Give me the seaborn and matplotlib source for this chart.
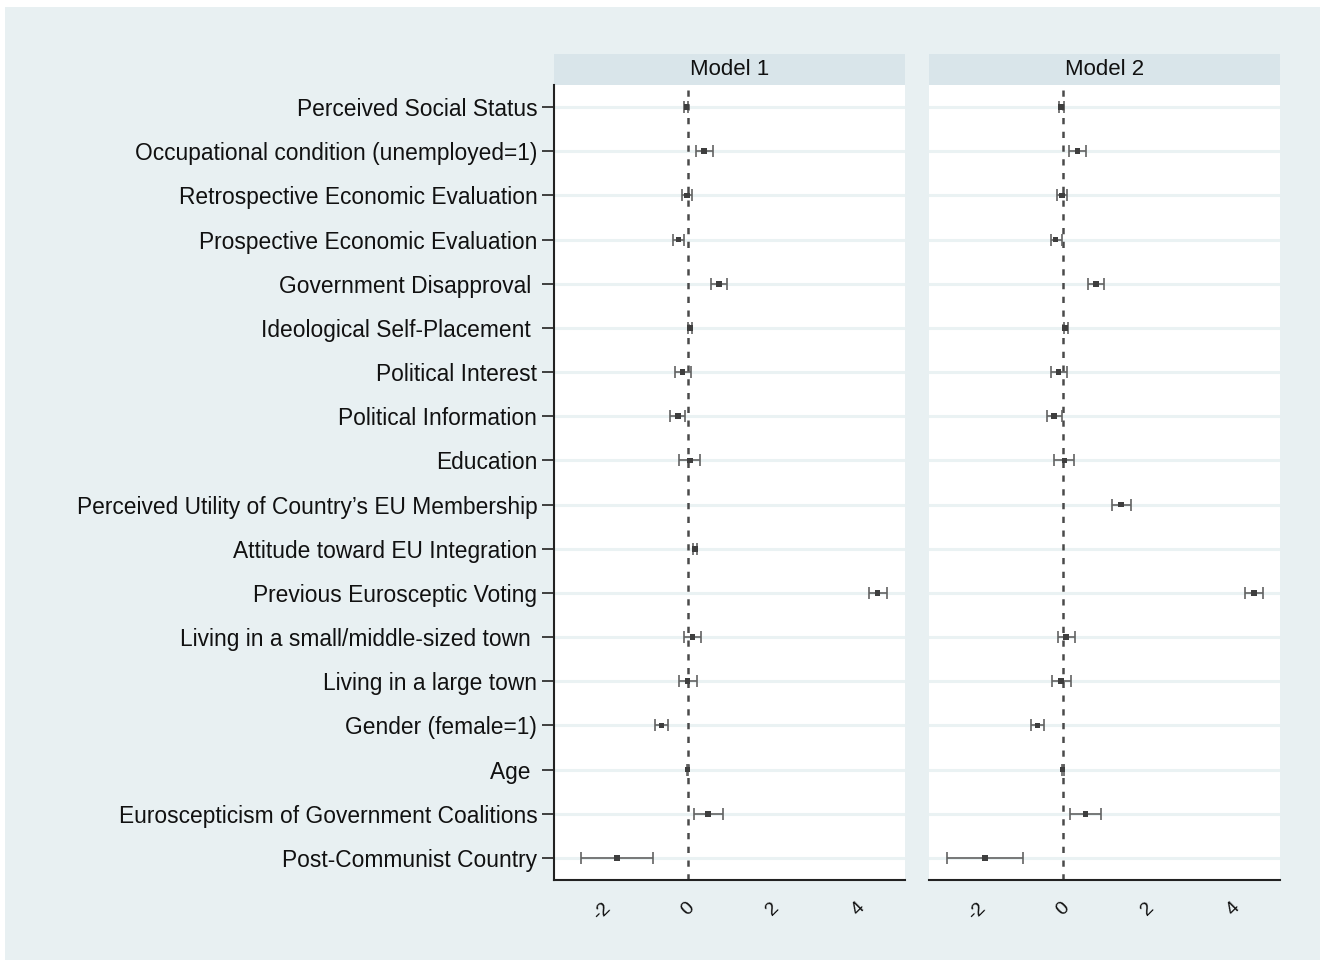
import numpy as np
import pandas as pd
import matplotlib
matplotlib.use("Agg")
import matplotlib.pyplot as plt
import seaborn as sns

labels = [
    "Perceived Social Status",
    "Occupational condition (unemployed=1)",
    "Retrospective Economic Evaluation",
    "Prospective Economic Evaluation",
    "Government Disapproval ",
    "Ideological Self-Placement ",
    "Political Interest",
    "Political Information",
    "Education",
    "Perceived Utility of Country\u2019s EU Membership",
    "Attitude toward EU Integration",
    "Previous Eurosceptic Voting",
    "Living in a small/middle-sized town ",
    "Living in a large town",
    "Gender (female=1)",
    "Age ",
    "Euroscepticism of Government Coalitions",
    "Post-Communist Country",
]

# Model 1 (no estimate for EU membership utility)
m1_est = [-0.03, 0.38, -0.02, -0.21, 0.73, 0.05, -0.12, -0.23, 0.05, np.nan,
          0.17, 4.45, 0.12, 0.00, -0.61, 0.00, 0.48, -1.65]
m1_lo = [-0.08, 0.20, -0.13, -0.33, 0.55, 0.02, -0.30, -0.41, -0.19, np.nan,
         0.13, 4.24, -0.08, -0.21, -0.77, -0.02, 0.14, -2.50]
m1_hi = [0.02, 0.59, 0.10, -0.09, 0.93, 0.10, 0.09, -0.05, 0.29, np.nan,
         0.22, 4.67, 0.32, 0.23, -0.45, 0.02, 0.82, -0.80]

# Model 2 (no estimate for EU integration attitude)
m2_est = [-0.04, 0.35, -0.02, -0.17, 0.78, 0.06, -0.10, -0.20, 0.04, 1.37,
          np.nan, 4.48, 0.08, -0.04, -0.59, 0.00, 0.53, -1.82]
m2_lo = [-0.09, 0.16, -0.13, -0.28, 0.59, 0.02, -0.28, -0.37, -0.20, 1.16,
         np.nan, 4.27, -0.10, -0.25, -0.75, -0.02, 0.17, -2.72]
m2_hi = [0.02, 0.55, 0.10, -0.02, 0.97, 0.12, 0.09, -0.01, 0.27, 1.59,
         np.nan, 4.70, 0.28, 0.19, -0.43, 0.02, 0.89, -0.92]

models = ["Model 1", "Model 2"]
xticks = [-2, 0, 2, 4]

rows = []
for m, est, lo, hi in [("Model 1", m1_est, m1_lo, m1_hi), ("Model 2", m2_est, m2_lo, m2_hi)]:
    for i, lab in enumerate(labels):
        rows.append({"model": m, "var": lab, "pos": i, "est": est[i], "lo": lo[i], "hi": hi[i]})
df = pd.DataFrame(rows).dropna()

bg = "#e8f0f2"
strip = "#d9e5ea"
grid = "#eaf2f3"
ink = "#111111"

sns.set_style("white")
plt.rcParams["font.family"] = ["Liberation Sans", "DejaVu Sans"]
plt.rcParams["text.color"] = ink
plt.rcParams["xtick.color"] = ink
plt.rcParams["ytick.color"] = ink

fig = plt.figure(figsize=(13.23, 9.65), dpi=100, facecolor="white")
# light graph region with a thin white margin, as in Stata exports
fig.patches.append(plt.Rectangle((5 / 1323, 5 / 965), 1315 / 1323, 953 / 965,
                                 transform=fig.transFigure, facecolor=bg, edgecolor="none", zorder=-10))

bottom, height = 0.0881, 0.8238
axes = [fig.add_axes([0.4187, bottom, 0.2653, height]),
        fig.add_axes([0.7022, bottom, 0.2653, height])]

for k, (ax, m) in enumerate(zip(axes, models)):
    d = df[df["model"] == m]
    ax.set_facecolor("white")
    for i in range(len(labels)):
        ax.axhline(i, color=grid, lw=2.2, zorder=0)
    ax.axvline(0, color="#4a4a4a", lw=1.8, ls=(0, (2.5, 3)), zorder=1)
    ax.errorbar(d["est"], d["pos"], xerr=[d["est"] - d["lo"], d["hi"] - d["est"]],
                fmt="none", ecolor="#626262", elinewidth=1.2, capsize=4.5, capthick=1.2, zorder=2)
    sns.scatterplot(data=d, x="est", y="pos", ax=ax, marker="s", s=16,
                    color="#3e3e3e", edgecolor="none", zorder=3, legend=False)
    ax.set_xlim(-3.13, 5.09)
    ax.set_ylim(17.5, -0.5)
    ax.set_xticks(xticks)
    ax.set_xticklabels([str(t) for t in xticks], rotation=45, fontsize=14)
    ax.tick_params(axis="x", length=8, width=1.5, color="#222222", pad=6)
    ax.set_xlabel("")
    ax.set_ylabel("")
    for s in ["top", "right"]:
        ax.spines[s].set_visible(False)
    ax.spines["bottom"].set_color("#222222")
    ax.spines["bottom"].set_linewidth(1.5)
    if k == 0:
        ax.set_yticks(range(len(labels)))
        ax.set_yticklabels(labels, fontsize=16.4)
        ax.tick_params(axis="y", length=9, width=1.2, color="#222222", pad=3, left=True)
        ax.spines["left"].set_color("#222222")
        ax.spines["left"].set_linewidth(1.5)
    else:
        ax.set_yticks([])
        ax.spines["left"].set_visible(False)
    # strip header
    hdr = plt.Rectangle((0, 1.0), 1, 0.0388, transform=ax.transAxes, facecolor=strip,
                        edgecolor="none", clip_on=False, zorder=0)
    ax.add_patch(hdr)
    ax.text(0.5, 1.0194, m, transform=ax.transAxes, ha="center", va="center", fontsize=16)

fig.savefig("out.png", dpi=100, facecolor="white")
